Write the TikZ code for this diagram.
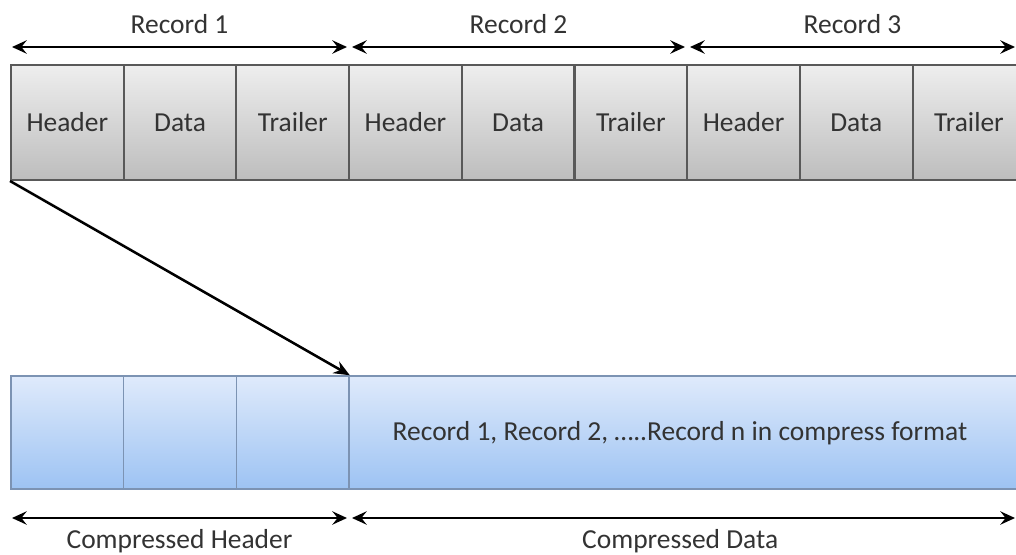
\documentclass[tikz,border=0pt]{standalone}
\usepackage{fontspec}
\setmainfont{Carlito}
\usetikzlibrary{arrows.meta}

\definecolor{txtgray}{HTML}{333333}
\definecolor{cellgrayA}{HTML}{EEEEEE}
\definecolor{cellgrayB}{HTML}{BDBDBD}
\definecolor{cellblueA}{HTML}{DFEAFB}
\definecolor{cellblueB}{HTML}{9DC3F3}
\definecolor{blueline}{HTML}{7C93B3}

\tikzset{
    recbox/.style={draw=black!65, line width=1.5pt, top color=cellgrayA, bottom color=cellgrayB,
        minimum width=84.5pt, minimum height=86.25pt, inner sep=0pt, text=txtgray},
    compbox/.style={draw=blueline, line width=1.1pt, top color=cellblueA, bottom color=cellblueB,
        minimum height=84.75pt, inner sep=0pt, text=txtgray},
    span/.style={{Stealth[length=11pt,width=10pt,inset=4pt]}-{Stealth[length=11pt,width=10pt,inset=4pt]}, line width=1.9pt},
    lbl/.style={text=txtgray}
}

\begin{document}
\begin{tikzpicture}[x=0.75pt, y=-0.75pt, font=\fontsize{20.6}{24}\selectfont]
    \clip (0,0) rectangle (1016,554);
    % Draw the records
    \foreach \i/\part in {1/Header,2/Data,3/Trailer,4/Header,5/Data,6/Trailer,7/Header,8/Data,9/Trailer}
        \node[recbox] (top\i) at ({11+112.7*(\i-0.5)},122.5) {\part};
    % Draw the compressed block
    \foreach \i in {1,2,3}
        \node[compbox, minimum width=84.5pt] (hd\i) at ({11+112.7*(\i-0.5)},432.5) {};
    \node[compbox, minimum width=505pt] (body) at (686,432.5) {};
    \node[lbl] (bodytxt) at (680,433) {Record 1, Record 2, \dots..Record n in compress format};
    % Record spans
    \coordinate (ra) at (12,47);
    \coordinate (rb) at (347,47);
    \coordinate (rc) at (352,47);
    \coordinate (rd) at (685,47);
    \coordinate (re) at (690,47);
    \coordinate (rf) at (1015,47);
    \draw[span] (ra) -- (rb) node[lbl, midway, above=6pt] (rec1) {Record 1};
    \draw[span] (rc) -- (rd) node[lbl, midway, above=6pt] (rec2) {Record 2};
    \draw[span] (re) -- (rf) node[lbl, midway, above=6pt] (rec3) {Record 3};
    % Compressed spans
    \coordinate (ca) at (12,518);
    \coordinate (cb) at (347,518);
    \coordinate (cc) at (352,518);
    \coordinate (cd) at (1015,518);
    \draw[span] (ca) -- (cb) node[lbl, midway, below=4pt] (chead) {Compressed Header};
    \draw[span] (cc) -- (cd) node[lbl, pos=0.495, below=4pt] (cdata) {Compressed Data};
    % Header goes into compressed header
    \draw[-{Stealth[length=12pt,width=10pt,inset=4pt]}, line width=1.9pt] (top1.south west) -- (hd3.north east);
\end{tikzpicture}
\end{document}
